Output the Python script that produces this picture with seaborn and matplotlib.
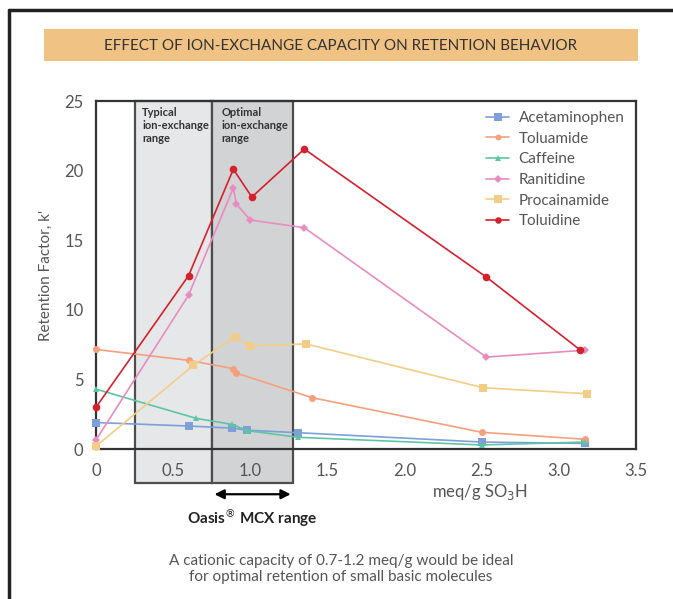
import matplotlib
matplotlib.use("Agg")
import numpy as np
import pandas as pd
import seaborn as sns
import matplotlib.pyplot as plt
from matplotlib.lines import Line2D
from matplotlib.patches import Rectangle

# data (x = meq/g SO3H, y = retention factor k')
aceta_x = [0.0, 0.6, 0.88, 0.98, 1.31, 2.5, 3.17]
aceta_y = [1.9, 1.65, 1.5, 1.35, 1.17, 0.5, 0.4]
tolam_x = [0.0, 0.6, 0.89, 0.91, 1.4, 2.5, 3.17]
tolam_y = [7.15, 6.37, 5.77, 5.45, 3.69, 1.2, 0.7]
caff_x = [0.0, 0.65, 0.88, 0.98, 1.31, 2.5, 3.17]
caff_y = [4.3, 2.2, 1.77, 1.32, 0.84, 0.29, 0.5]
ranit_x = [0.0, 0.6, 0.89, 0.91, 1.0, 1.35, 2.53, 3.17]
ranit_y = [0.65, 11.05, 18.75, 17.6, 16.45, 15.9, 6.6, 7.1]
procain_x = [0.0, 0.63, 0.9, 1.0, 1.36, 2.51, 3.18]
procain_y = [0.2, 6.0, 8.07, 7.4, 7.55, 4.4, 3.97]
toluid_x = [0.0, 0.6, 0.89, 1.01, 1.35, 2.53, 3.14]
toluid_y = [3.0, 12.45, 20.1, 18.1, 21.55, 12.35, 7.1]

compounds = ["Acetaminophen", "Toluamide", "Caffeine", "Ranitidine", "Procainamide", "Toluidine"]
series_x = [aceta_x, tolam_x, caff_x, ranit_x, procain_x, toluid_x]
series_y = [aceta_y, tolam_y, caff_y, ranit_y, procain_y, toluid_y]
colors = ["#7f9fd8", "#f59f7c", "#5cc6a4", "#e88cc0", "#f3cd86", "#d5202e"]
markers = ["s", "o", "^", "D", "s", "o"]
msizes = [6, 5, 5, 4.5, 6, 5.5]

typical_range = (0.25, 0.75)
optimal_range = (0.75, 1.28)

sns.set_style("white")
plt.rcParams["font.family"] = ["Lato", "DejaVu Sans"]
grey = "#555555"

fig = plt.figure(figsize=(6.73, 5.99), dpi=100)
ax = fig.add_axes([96 / 673, 1 - 449 / 599, 540 / 673, 348 / 599])

# shaded capacity ranges, extending below the x axis
for (x0, x1), fc in [(typical_range, "#e6e7e9"), (optimal_range, "#d2d3d5")]:
    r = Rectangle((x0, -0.098), x1 - x0, 1.098, transform=ax.get_xaxis_transform(),
                  facecolor=fc, edgecolor="#4d4d4d", linewidth=1.6, clip_on=False, zorder=0)
    ax.add_patch(r)

ax.text(0.30, 24.55, "Typical\nion-exchange\nrange", fontsize=8, fontweight="bold",
        color="#333333", va="top", ha="left", linespacing=1.2)
ax.text(0.815, 24.55, "Optimal\nion-exchange\nrange", fontsize=8, fontweight="bold",
        color="#333333", va="top", ha="left", linespacing=1.2)

for name, xs, ys, c, m, ms in zip(compounds, series_x, series_y, colors, markers, msizes):
    df = pd.DataFrame({"x": xs, "y": ys})
    sns.lineplot(data=df, x="x", y="y", ax=ax, color=c, marker=m, markersize=ms,
                 markeredgewidth=0, linewidth=1.2, sort=False, label=name, zorder=3,
                 clip_on=False)

ax.set_xlim(0, 3.5)
ax.set_ylim(0, 25)
ax.set_xticks(np.arange(0, 3.51, 0.5))
ax.set_xticklabels(["0", "0.5", "1.0", "1.5", "2.0", "2.5", "3.0", "3.5"])
ax.set_yticks([0, 5, 10, 15, 20, 25])
for s in ax.spines.values():
    s.set_color("#333333")
    s.set_linewidth(1.6)
    s.set_visible(True)
ax.tick_params(axis="both", direction="out", length=6, width=1.5, color="#333333",
               labelsize=12, labelcolor=grey, pad=3)
ax.tick_params(axis="x", pad=4)
ax.set_xlabel("")
ax.set_ylabel("Retention Factor, k'", fontsize=11, color=grey, labelpad=8)
ax.text(0.711, -0.125, "meq/g SO$_3$H", transform=ax.transAxes, fontsize=12,
        color=grey, ha="center", va="center")

leg = ax.legend(loc="upper right", bbox_to_anchor=(1.004, 1.01), frameon=False,
                fontsize=11, handlelength=1.5, labelspacing=0.43, handletextpad=0.6,
                markerscale=0.85)
for t in leg.get_texts():
    t.set_color(grey)

# Oasis MCX range arrow
ax.annotate("", xy=(optimal_range[0], -0.13), xytext=(optimal_range[1], -0.13),
            xycoords=ax.get_xaxis_transform(), textcoords=ax.get_xaxis_transform(),
            arrowprops=dict(arrowstyle="<|-|>", color="black", lw=1.6, mutation_scale=14))
ax.text(sum(optimal_range) / 2, -0.198, "Oasis$^{®}$ MCX range", transform=ax.get_xaxis_transform(),
        fontsize=11, fontweight="bold", color="#222222", ha="center", va="center")

# title banner
fig.add_artist(Rectangle((44 / 673, 1 - 61 / 599), 594 / 673, 32 / 599,
                         transform=fig.transFigure, facecolor="#f0c384", edgecolor="none"))
fig.text(341 / 673, 1 - 46 / 599, "EFFECT OF ION-EXCHANGE CAPACITY ON RETENTION BEHAVIOR",
         fontsize=11, color="#333333", ha="center", va="center")

fig.text(341 / 673, 1 - 569 / 599,
         "A cationic capacity of 0.7-1.2 meq/g would be ideal\nfor optimal retention of small basic molecules",
         fontsize=11, color=grey, ha="center", va="center", linespacing=1.15)

# outer frame
fig.add_artist(Line2D([9 / 673, 1], [1 - 10 / 599] * 2, transform=fig.transFigure,
                      color="#222222", lw=2.5))
fig.add_artist(Line2D([9 / 673] * 2, [0, 1 - 10 / 599], transform=fig.transFigure,
                      color="#222222", lw=2.5))

fig.savefig("out.png", dpi=100)
